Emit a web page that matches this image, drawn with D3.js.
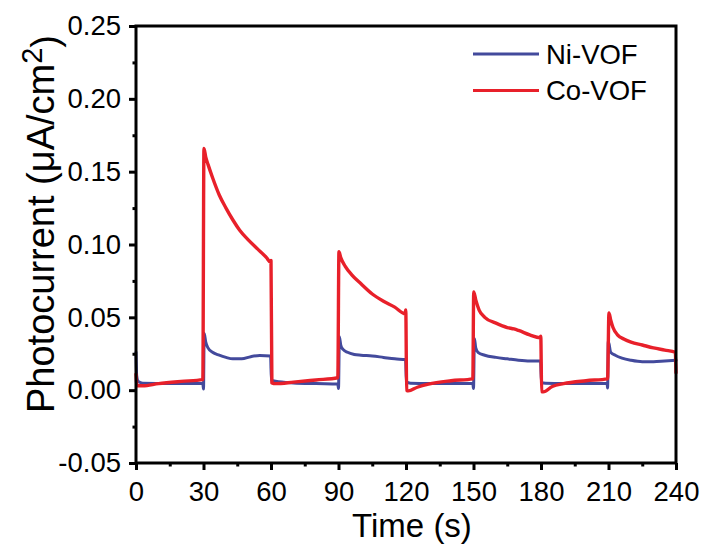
<!DOCTYPE html>
<html>
<head>
<meta charset="utf-8">
<script src="https://cdn.jsdelivr.net/npm/d3@7"></script>
<style>
  html, body { margin: 0; padding: 0; background: #fff; }
  svg text { font-family: "Liberation Sans", Arial, sans-serif; fill: #000; }
</style>
</head>
<body>
<svg id="chart" width="702" height="551"></svg>
<script>
// time (s) and photocurrent (uA/cm2)
var coTime = [0, 0.5, 3, 10, 20, 29.7, 30.2, 31, 32, 34, 37, 40, 43, 46, 50, 54, 58, 59.7, 60, 60.4, 62, 70, 80, 89.7,
  90.2, 91, 93, 96, 100, 105, 110, 115, 119.6, 119.9, 120.3, 121, 125, 130, 140, 149.7,
  150.1, 151, 152.5, 155, 160, 165, 168, 170, 175, 179.6, 179.9, 180.3, 181, 185, 190, 200, 209.6,
  210.2, 211, 212, 214, 217, 220, 225, 230, 235, 239.7, 240];
var coCurrent = [0.011, 0.003, 0.003, 0.0045, 0.006, 0.0072, 0.166, 0.160, 0.155, 0.146, 0.134, 0.125, 0.117, 0.110, 0.103, 0.097, 0.091, 0.088, 0.089, 0.005, 0.0045, 0.0055, 0.007, 0.0085,
  0.095, 0.091, 0.085, 0.079, 0.073, 0.066, 0.061, 0.057, 0.0525, 0.055, 0.0, -0.0005, 0.002, 0.0042, 0.0065, 0.0078,
  0.0675, 0.062, 0.055, 0.050, 0.046, 0.043, 0.042, 0.041, 0.038, 0.036, 0.037, -0.001, -0.0012, 0.0025, 0.0045, 0.0065, 0.0078,
  0.053, 0.048, 0.043, 0.038, 0.035, 0.033, 0.031, 0.029, 0.0275, 0.026, 0.012];

var niTime = [0, 0.3, 1, 3, 15, 29.7, 30, 30.3, 31, 32, 34, 37, 40, 43, 47, 51, 55, 59.8, 60.2, 62, 70, 80, 89.7,
  90, 90.4, 91, 92, 94, 97, 100, 105, 110, 115, 119.8, 120.2, 122, 130, 140, 149.7,
  150, 150.4, 151, 152, 155, 160, 165, 170, 175, 179.8, 180.2, 182, 190, 209.4,
  209.6, 209.9, 211, 213, 216, 220, 225, 230, 235, 240];
var niCurrent = [0.026, 0.010, 0.006, 0.0048, 0.0045, 0.0045, 0.0008, 0.039, 0.033, 0.029, 0.026, 0.024, 0.0225, 0.0215, 0.0215, 0.023, 0.0238, 0.0235, 0.0068, 0.0062, 0.005, 0.0045, 0.0042,
  0.0012, 0.0366, 0.031, 0.028, 0.026, 0.0245, 0.024, 0.0235, 0.0225, 0.0215, 0.021, 0.0055, 0.0048, 0.0045, 0.0045, 0.0045,
  0.0012, 0.0355, 0.029, 0.026, 0.024, 0.0225, 0.0215, 0.0205, 0.020, 0.020, 0.0052, 0.0048, 0.0045, 0.0045,
  0.0015, 0.0335, 0.026, 0.024, 0.022, 0.0205, 0.0195, 0.0195, 0.020, 0.0205];

var xTicks = [0, 30, 60, 90, 120, 150, 180, 210, 240];
var xMinor = [15, 45, 75, 105, 135, 165, 195, 225];
var yTicks = [-0.05, 0.00, 0.05, 0.10, 0.15, 0.20, 0.25];
var yMinor = [-0.025, 0.025, 0.075, 0.125, 0.175, 0.225];

var seriesNames = ["Ni-VOF", "Co-VOF"];
var seriesColors = ["#434A9C", "#E8202A"];

(function () {
  var margin = {left: 136, right: 676, top: 26, bottom: 463};

  var svg = d3.select("#chart");

  var x = d3.scaleLinear().domain([0, 240]).range([margin.left, margin.right]);
  var y = d3.scaleLinear().domain([-0.05, 0.25]).range([margin.bottom, margin.top]);

  // curves
  var line = d3.line()
    .x(function (d) { return x(d[0]); })
    .y(function (d) { return y(d[1]); })
    .curve(d3.curveMonotoneX);

  var series = [d3.zip(niTime, niCurrent), d3.zip(coTime, coCurrent)];

  svg.append("g").selectAll("path")
    .data(series).enter().append("path")
    .attr("d", line)
    .attr("fill", "none")
    .attr("stroke", function (d, i) { return seriesColors[i]; })
    .attr("stroke-width", function (d, i) { return i ? 3.4 : 3; })
    .attr("stroke-linejoin", "round")
    .attr("stroke-linecap", "round");

  // axes: major ticks with labels, minor ticks without
  svg.append("g")
    .attr("transform", "translate(0," + margin.bottom + ")")
    .call(d3.axisBottom(x).tickValues(xTicks).tickSize(7).tickPadding(11).tickFormat(d3.format("d")));

  svg.append("g")
    .attr("transform", "translate(0," + margin.bottom + ")")
    .call(d3.axisBottom(x).tickValues(xMinor).tickSize(3.5).tickFormat(""));

  svg.append("g")
    .attr("transform", "translate(" + margin.left + ",0)")
    .call(d3.axisLeft(y).tickValues(yTicks).tickSize(7).tickPadding(8)
      .tickFormat(function (d) { return d.toFixed(2); }));

  svg.append("g")
    .attr("transform", "translate(" + margin.left + ",0)")
    .call(d3.axisLeft(y).tickValues(yMinor).tickSize(3.5).tickFormat(""));

  svg.selectAll(".domain").remove();
  svg.selectAll(".tick line").attr("stroke", "#000").attr("stroke-width", 3);
  svg.selectAll(".tick text").style("font-size", "27.5px");

  // frame
  svg.append("rect")
    .attr("x", margin.left).attr("y", margin.top)
    .attr("width", margin.right - margin.left).attr("height", margin.bottom - margin.top)
    .attr("fill", "none").attr("stroke", "#000").attr("stroke-width", 3);

  // axis titles
  svg.append("text")
    .attr("x", 412).attr("y", 537)
    .attr("text-anchor", "middle")
    .style("font-size", "33px")
    .text("Time (s)");

  var yTitle = svg.append("text")
    .attr("transform", "translate(54,224) rotate(-90)")
    .attr("text-anchor", "middle")
    .style("font-size", "38px");
  yTitle.append("tspan").text("Photocurrent (\u03bcA/cm");
  yTitle.append("tspan").attr("dy", "-0.42em").style("font-size", "29px").text("2");
  yTitle.append("tspan").attr("dy", "0.42em").text(")");

  // legend
  var legend = svg.append("g").selectAll("g")
    .data(seriesNames).enter().append("g")
    .attr("transform", function (d, i) { return "translate(473," + (54 + i * 36.5) + ")"; });

  legend.append("line")
    .attr("x1", 0).attr("x2", 66)
    .attr("stroke", function (d, i) { return seriesColors[i]; })
    .attr("stroke-width", 3);

  legend.append("text")
    .attr("x", 73).attr("dy", "0.36em")
    .style("font-size", "27.5px")
    .text(function (d) { return d; });
})();
</script>
</body>
</html>
